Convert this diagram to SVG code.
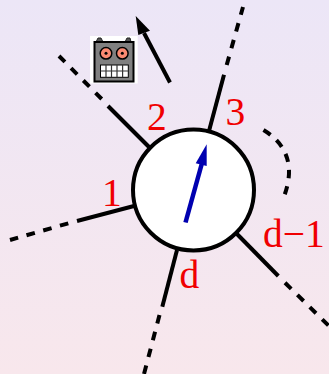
<svg xmlns="http://www.w3.org/2000/svg" width="329" height="374" viewBox="0 0 329 374">
<style>
.s{fill:none;stroke:#000;stroke-width:4}
.d{fill:none;stroke:#000;stroke-width:4;stroke-dasharray:8.700 8.700}
.l{font-family:"Liberation Serif",serif;font-size:39.500px;fill:#f00001}
</style>
<defs>
<linearGradient id="bg" x1="0" y1="0" x2="0" y2="1"><stop offset="0" stop-color="#ece6f7"/><stop offset="1" stop-color="#f8e7ec"/></linearGradient>
</defs>
<rect width="329" height="374" fill="url(#bg)"/>
<g id="connectors">
<path class="s" d="M134 206L77 221"/><path class="d" d="M68.300 223.300L10 240"/>
<path class="s" d="M149 147L108 106"/><path class="d" d="M101.700 99L59 56"/>
<path class="s" d="M209 131L224 74.700"/><path class="d" d="M226.700 65L243 7"/>
<path class="s" d="M237 234L278.300 276"/><path class="d" d="M285 282.700L329 326"/>
<path class="s" d="M177 250L162.300 306.700"/><path class="d" d="M159.500 315L144 374"/>
<path class="d" style="stroke-dasharray:8.500 8" d="M263.500 130C285 143 297 165 283 199"/>
<path d="M170 82.500L144 33" fill="none" stroke="#000" stroke-width="4"/>
<path d="M135.700 16L150 30.700L138.300 35Z" fill="#000"/>
</g>
<g id="hub">
<circle cx="193.500" cy="190" r="60.500" fill="#fff" stroke="#000" stroke-width="4"/>
<path d="M185.500 222.500L202 163" fill="none" stroke="#0000b0" stroke-width="4.500"/>
<path d="M206.700 144.300L206.700 166L195.700 163.300Z" fill="#0000b0"/>
</g>
<g id="robot">
<rect x="90" y="36" width="47.700" height="47.500" fill="#fff"/>
<path d="M96 42l2-4h3l2 4zM125 42l2-4h3l1 4z" fill="#555" stroke="#222"/>
<rect x="94.500" y="42" width="39" height="39.500" fill="#808080" stroke="#000" stroke-width="2"/>
<circle cx="106" cy="53.300" r="5.800" fill="#fa8a72" stroke="#000" stroke-width="1.500"/><circle cx="106" cy="53.300" r="1.500" fill="#000"/>
<circle cx="122.300" cy="53.300" r="5.800" fill="#fa8a72" stroke="#000" stroke-width="1.500"/><circle cx="122.300" cy="53.300" r="1.500" fill="#000"/>
<rect x="100.500" y="65" width="27.800" height="12.300" fill="#fff" stroke="#000"/>
<path d="M106 65v12M111.500 65v12M117 65v12M122.600 65v12M100.500 71h28" stroke="#333" stroke-width="1.200" fill="none"/>
</g>
<g id="labels">
<text class="l" x="102" y="205.500">1</text>
<text class="l" x="147" y="130">2</text>
<text class="l" x="225.500" y="125">3</text>
<text class="l" x="263" y="247">d−1</text>
<text class="l" x="179.500" y="288">d</text>
</g>
</svg>
